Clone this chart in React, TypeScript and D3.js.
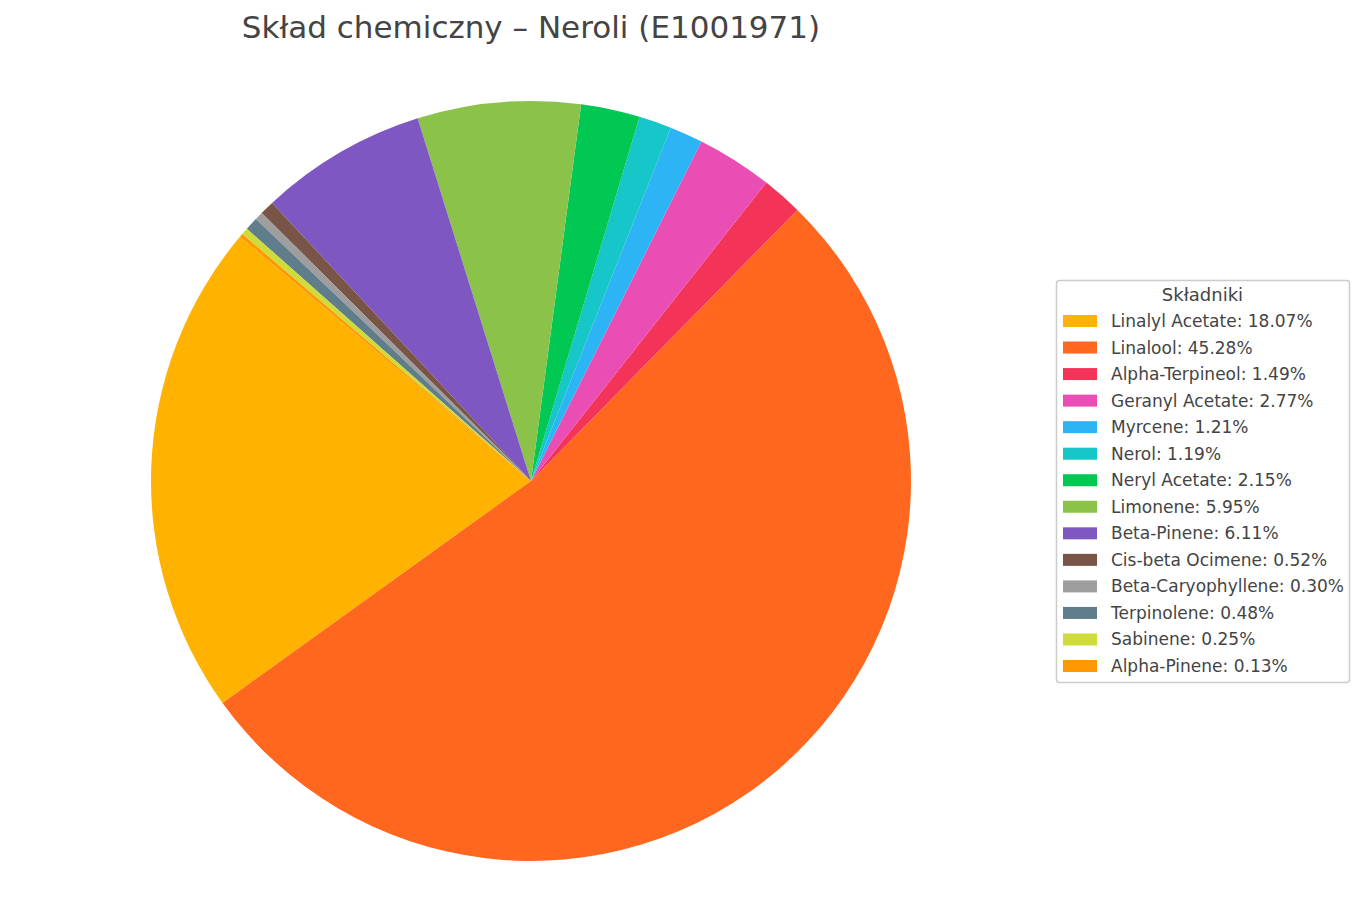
import React from "react";
import * as d3 from "d3";

const TITLE = "Skład chemiczny – Neroli (E1001971)";
const LEGEND_TITLE = "Składniki";
const components = [
  "Linalyl Acetate",
  "Linalool",
  "Alpha-Terpineol",
  "Geranyl Acetate",
  "Myrcene",
  "Nerol",
  "Neryl Acetate",
  "Limonene",
  "Beta-Pinene",
  "Cis-beta Ocimene",
  "Beta-Caryophyllene",
  "Terpinolene",
  "Sabinene",
  "Alpha-Pinene",
];
const percents = [18.07, 45.28, 1.49, 2.77, 1.21, 1.19, 2.15, 5.95, 6.11, 0.52, 0.3, 0.48, 0.25, 0.13];
const colors = [
  "#FFB300",
  "#FF671F",
  "#F43358",
  "#EA4DB4",
  "#2DB4F5",
  "#16C6C8",
  "#00C853",
  "#8BC34A",
  "#7E57C2",
  "#795548",
  "#9E9E9E",
  "#607D8B",
  "#CDDC39",
  "#FF9800",
];

const W = 1365;
const H = 915;
const CX = 531;
const CY = 481;
const R = 380;
const START_DEG = 140; // matplotlib-style start angle, counter-clockwise

export default function App() {
  const data = components.map((name, i) => ({ name, value: percents[i], color: colors[i] }));
  const toRad = (d: number) => (d * Math.PI) / 180;
  const pie = d3
    .pie<any>()
    .sort(null)
    .value((d: any) => d.value)
    .startAngle(toRad(90 - START_DEG))
    .endAngle(toRad(90 - START_DEG - 360));
  const arcs = pie(data);
  const arcGen = d3.arc<any>().innerRadius(0).outerRadius(R);

  const legX = 1056;
  const legY = 280;
  const legW = 293;
  const rowH = 26.54;
  const firstRowY = 321;
  const legH = 402;
  const font = "'DejaVu Sans', sans-serif";

  return (
    <svg
      width={W}
      height={H}
      style={{ position: "absolute", left: 0, top: 0, background: "#fff" }}
      fontFamily={font}
    >
      <text x={CX} y={38} textAnchor="middle" fontSize={31} fill="#444">
        {TITLE}
      </text>
      <g transform={`translate(${CX},${CY})`}>
        {arcs.map((a, i) => (
          <path key={i} d={arcGen(a) as string} fill={a.data.color} />
        ))}
      </g>
      <g>
        <rect
          x={legX + 0.5}
          y={legY + 0.5}
          width={legW}
          height={legH}
          rx={3}
          fill="#fff"
          fillOpacity={0.8}
          stroke="#cccccc"
          strokeWidth={1.5}
        />
        <text x={legX + legW / 2} y={301} textAnchor="middle" fontSize={18} fill="#444">
          {LEGEND_TITLE}
        </text>
        {data.map((d, i) => {
          const y = firstRowY + i * rowH;
          return (
            <g key={i}>
              <rect x={1063} y={y - 6} width={34} height={12} fill={d.color} />
              <text x={1111} y={y + 6} fontSize={17} fill="#444">
                {`${d.name}: ${d.value.toFixed(2)}%`}
              </text>
            </g>
          );
        })}
      </g>
    </svg>
  );
}
